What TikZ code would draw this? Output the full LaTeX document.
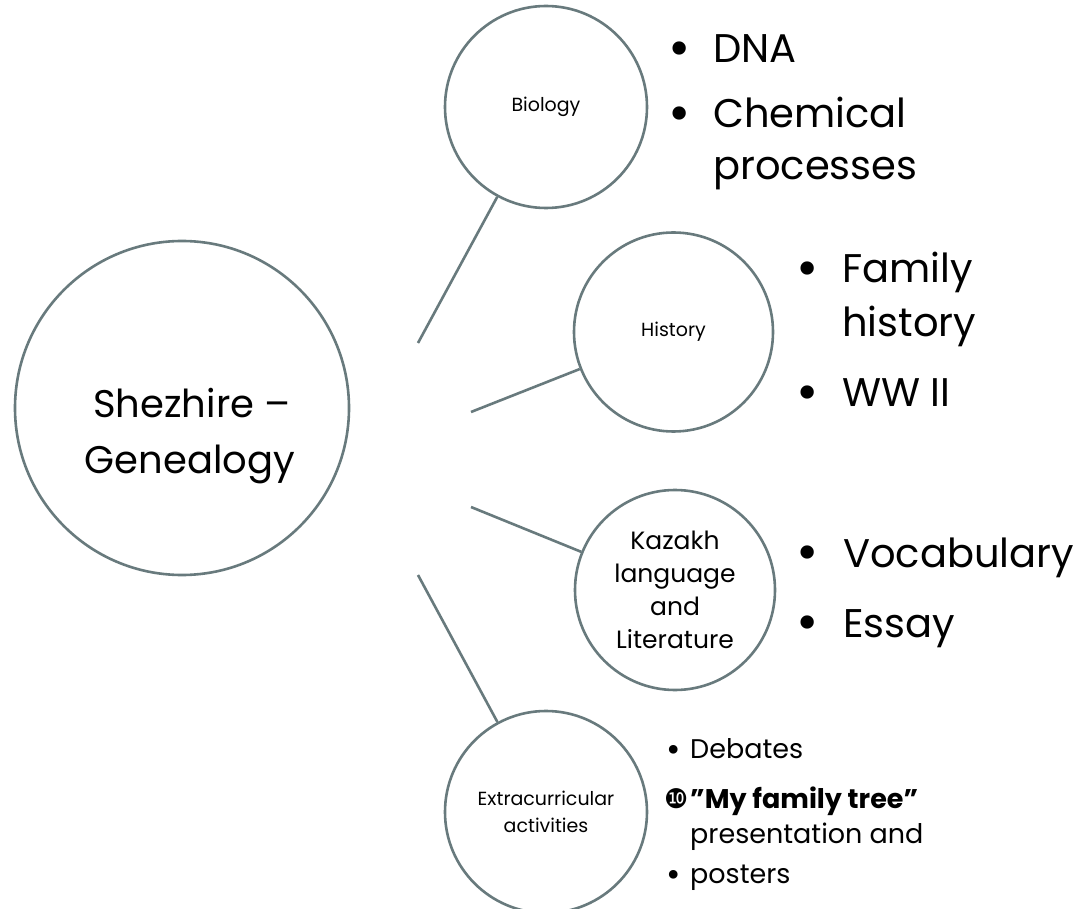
\documentclass[tikz,border=0pt]{standalone}
\usepackage{fontspec}
\setmainfont{Poppins}
\newfontfamily\dejavu{DejaVu Sans}
\definecolor{ring}{RGB}{104,122,125}
\newcommand{\bigdot}{\raisebox{-0.08em}{\scalebox{1.35}{•}}}
\newcommand{\smalldot}{\raisebox{-0.12em}{\scalebox{1.3}{•}}}
\begin{document}
\begin{tikzpicture}[x=1pt,y=-1pt,
  circ/.style={circle,draw=ring,line width=2.6pt,inner sep=0pt,align=center,fill=white},
  conn/.style={draw=ring,line width=2.6pt},
  big/.style={anchor=base west,inner sep=0pt,font=\fontsize{40}{40}\selectfont},
  bul/.style={anchor=base west,inner sep=0pt,font=\fontsize{40}{40}\selectfont},
  small/.style={anchor=base west,inner sep=0pt,font=\fontsize{27}{27}\selectfont}]
\useasboundingbox (0,0) rectangle (1088,909);
\fill[white] (0,0) rectangle (1088,909);
% main
\node[circ,minimum size=334pt] (main) at (182,408) {};
\node[anchor=base,inner sep=0pt,font=\fontsize{38.5}{38}\selectfont] (m1) at (192,418) {Shezhire –};
\node[anchor=base,inner sep=0pt,font=\fontsize{38.5}{38}\selectfont] (m2) at (190,474) {Genealogy};
% sub circles
\node[circ,minimum size=202pt,font=\fontsize{19}{22}\selectfont] (bio) at (546,107) {Biology};
\node[circ,minimum size=199pt,font=\fontsize{19}{22}\selectfont] (his) at (673.5,332) {History};
\node[circ,minimum size=200pt,font=\fontsize{25}{33}\selectfont] (kaz) at (675,590) {Kazakh\\language\\and\\Literature};
\node[circ,minimum size=202pt,font=\fontsize{19}{27}\selectfont] (ext) at (546,812) {Extracurricular\\activities};
% connectors
\coordinate (cb) at (418,343);
\coordinate (ch) at (471,412);
\coordinate (ck) at (471,507);
\coordinate (ce) at (418,575);
\draw[conn] (cb) -- (bio);
\draw[conn] (ch) -- (his);
\draw[conn] (ck) -- (kaz);
\draw[conn] (ce) -- (ext);
% biology list
\node[bul] (bb1) at (668,63) {\bigdot};
\node[big] (bt1) at (713,63) {DNA};
\node[bul] (bb2) at (668,128) {\bigdot};
\node[big] (bt2) at (713,128) {Chemical};
\node[big] (bt3) at (713,180) {processes};
% history list
\node[bul] (hb1) at (796,283) {\bigdot};
\node[big] (ht1) at (842,283) {Family};
\node[big] (ht2) at (842,337) {history};
\node[bul] (hb2) at (796,407) {\bigdot};
\node[big] (ht3) at (842,407) {WW II};
% kazakh list
\node[bul] (kb1) at (796,567) {\bigdot};
\node[big] (kt1) at (843,567) {Vocabulary};
\node[bul] (kb2) at (796,637) {\bigdot};
\node[big] (kt2) at (843,637) {Essay};
% extracurricular list
\node[small] (eb1) at (666,758) {\smalldot};
\node[small] (et1) at (690,758) {Debates};
\node[anchor=base west,inner sep=0pt,font=\dejavu\fontsize{27}{27}\selectfont] (eb2) at (664,808) {❿};
\node[small] (et2) at (690,808) {\bfseries "My family tree"};
\node[small] (et3) at (690,843) {presentation and};
\node[small] (eb3) at (666,883) {\smalldot};
\node[small] (et4) at (690,883) {posters};
\end{tikzpicture}
\end{document}
